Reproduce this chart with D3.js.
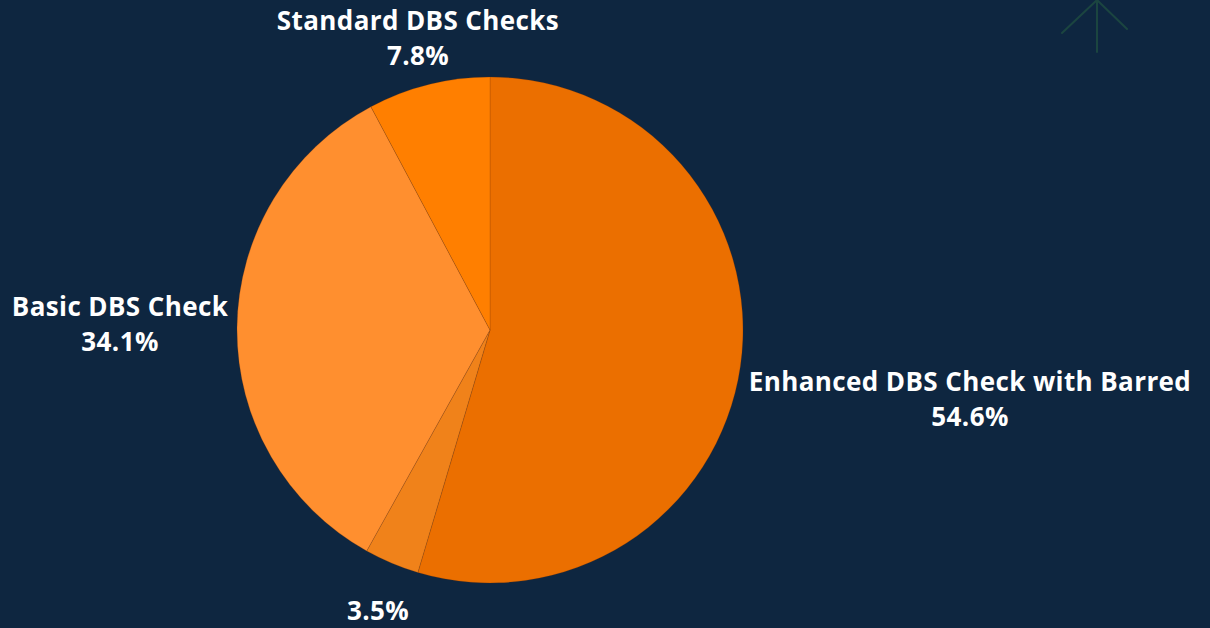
<!DOCTYPE html>
<html><head><meta charset="utf-8">
<script src="https://cdn.jsdelivr.net/npm/d3@7"></script>
<style>html,body{margin:0;padding:0;background:#0E2640;}svg{display:block;}</style>
</head><body>
<svg id="chart" width="1210" height="628"></svg>
<script>
const categories = ["Enhanced DBS Check with Barred", "", "Basic DBS Check", "Standard DBS Checks"];
const values = [54.6, 3.5, 34.1, 7.8];
const valueLabels = ["54.6%", "3.5%", "34.1%", "7.8%"];
const colors = ["#EB6F00", "#F0821A", "#FF8F2F", "#FF7F00"];

// label placement (layout, not data)
const labelPos = [[970, 381], [378, 610], [120, 306], [418, 20]];

const svg = d3.select("#chart");
const W = 1210, H = 628;
svg.append("rect").attr("width", W).attr("height", H).attr("fill", "#0E2640");

// decorative arrow icon
const arrow = svg.append("g").attr("stroke", "#1B4540").attr("stroke-width", 2).attr("fill", "none").attr("stroke-linecap", "round");
arrow.append("line").attr("x1", 1097).attr("y1", 0).attr("x2", 1097).attr("y2", 52);
arrow.append("line").attr("x1", 1097).attr("y1", 0).attr("x2", 1062).attr("y2", 33);
arrow.append("line").attr("x1", 1097).attr("y1", 0).attr("x2", 1127).attr("y2", 29);

const cx = 490, cy = 330, R = 253;
const pie = d3.pie().sort(null).value(d => d.v);
const data = values.map((v, i) => ({ v, i }));
const arcs = pie(data);
const arc = d3.arc().innerRadius(0).outerRadius(R);

const g = svg.append("g").attr("transform", `translate(${cx},${cy})`);
g.selectAll("path").data(arcs).enter().append("path")
  .attr("d", arc)
  .attr("fill", d => colors[d.data.i])
  .attr("stroke", "rgba(120,50,0,0.3)")
  .attr("stroke-width", 0.7);

const lbl = svg.append("g")
  .attr("font-family", "'Open Sans', Lato, sans-serif")
  .attr("font-weight", 700)
  .attr("font-size", 26)
  .attr("letter-spacing", 0.4)
  .attr("fill", "#FFFFFF")
  .attr("text-anchor", "middle");

arcs.forEach(d => {
  const i = d.data.i;
  const [x, y] = labelPos[i];
  const t = lbl.append("text").attr("x", x).attr("y", y).attr("dominant-baseline", "central");
  if (categories[i]) {
    t.append("tspan").attr("x", x).attr("dy", 0).text(categories[i]);
    t.append("tspan").attr("x", x).attr("dy", 35).text(valueLabels[i]);
  } else {
    t.append("tspan").attr("x", x).text(valueLabels[i]);
  }
});
</script>
</body></html>
